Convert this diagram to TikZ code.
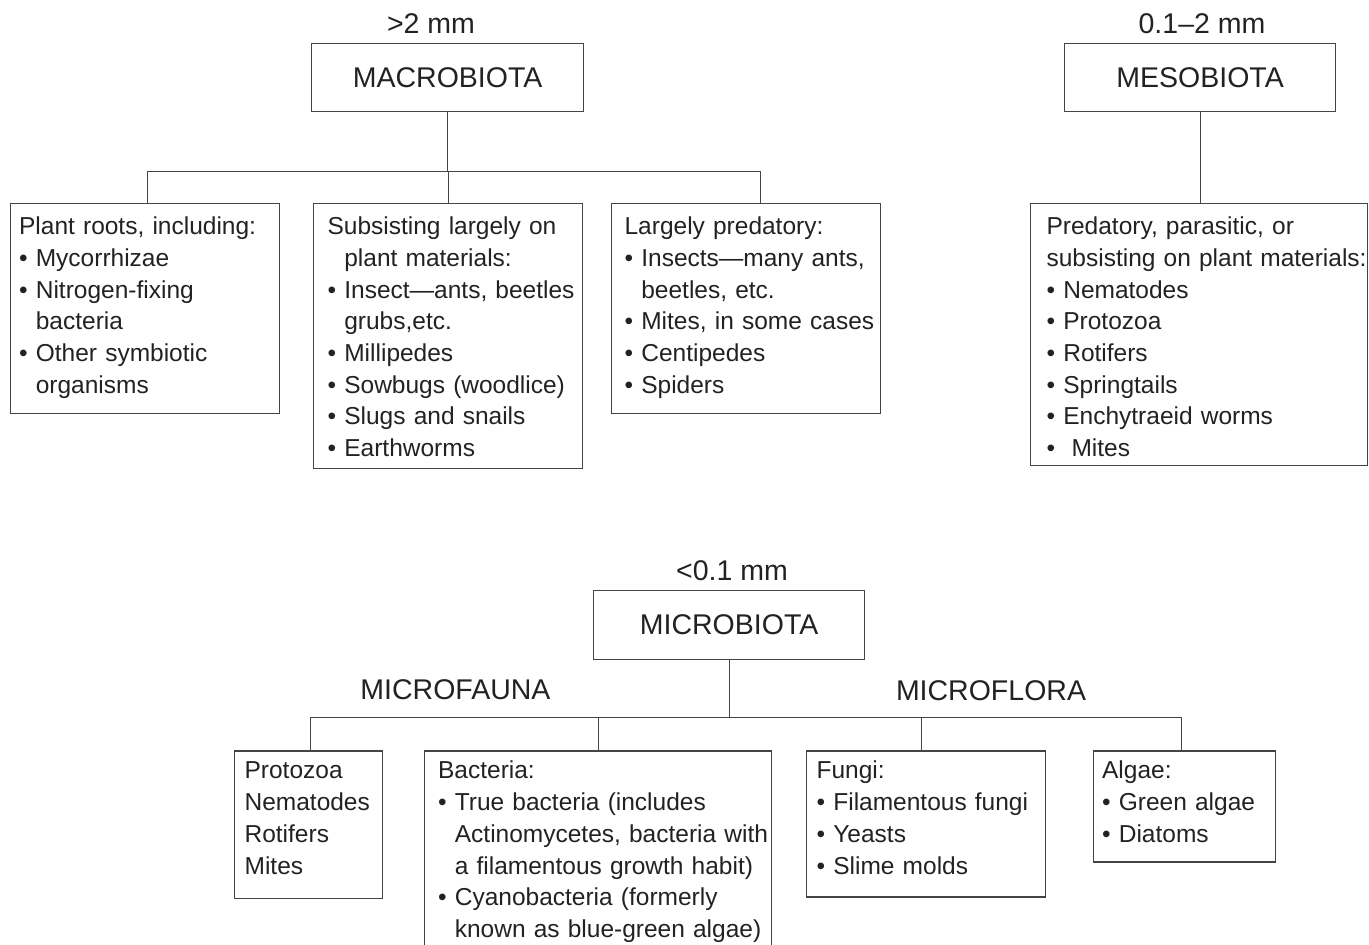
\documentclass[tikz,border=0pt]{standalone}
\usepackage{fontspec}
\setmainfont{Liberation Sans}
\usepackage{tikz}
\usetikzlibrary{positioning, calc}

\definecolor{linegray}{HTML}{444444}
\definecolor{inkgray}{HTML}{222222}

% bullet and hanging indent for the lists
\newcommand{\blt}{\textbullet\ }
\newcommand{\ctd}{\phantom{\textbullet\ }}

\tikzset{
  link/.style={draw=linegray, line width=1.2pt},
  headbox/.style={draw=linegray, line width=1.2pt, anchor=north west, inner sep=0pt,
    minimum height=68.5pt, text=inkgray, font=\fontsize{28.5}{34}\selectfont},
  sizetag/.style={anchor=base, inner sep=0pt, text=inkgray, font=\fontsize{28.5}{34}\selectfont},
  listbox/.style={draw=linegray, line width=1.2pt, anchor=north west, inner sep=0pt,
    align=left, text=inkgray, font=\fontsize{24.5}{31.7}\selectfont,
    execute at begin node={\rightskip=-40pt plus 1fil\relax}},
}

\begin{document}
\begin{tikzpicture}[x=1pt, y=-1pt]
        \useasboundingbox (0,0) rectangle (1369,945);

        % Macrobiota
        \node[sizetag] (macrosz) at (431,33.3) {>2 mm};
        \node[headbox, minimum width=272pt] (macro) at (311,42.7) {MACROBIOTA};
        \node[listbox, minimum width=269pt, text width=251pt, text height=31pt, text depth=179pt]
          (roots) at (9.5,203) {Plant roots, including:\\ \blt Mycorrhizae\\ \blt Nitrogen-fixing\\ \ctd bacteria\\ \blt Other symbiotic\\ \ctd organisms};
        \node[listbox, minimum width=269pt, text width=241pt, text height=31pt, text depth=233.5pt]
          (plants) at (313,203) {Subsisting largely on\\ \ctd plant materials:\\ \blt Insect---ants, beetles\\ \ctd grubs,etc.\\ \blt Millipedes\\ \blt Sowbugs (woodlice)\\ \blt Slugs and snails\\ \blt Earthworms};
        \node[listbox, minimum width=269pt, text width=243pt, text height=31pt, text depth=179pt]
          (preds) at (611,203) {Largely predatory:\\ \blt Insects---many ants,\\ \ctd beetles, etc.\\ \blt Mites, in some cases\\ \blt Centipedes\\ \blt Spiders};

        \draw[link] (macro.south) -- ++(0,59) coordinate (macrobus);
        \draw[link] ([xshift=3pt]roots.north) |- (macrobus) -| ([xshift=14pt]preds.north);
        \draw[link] (plants.north) -- (plants.north |- macrobus);

        % Mesobiota
        \node[sizetag] (mesosz) at (1202,33.3) {0.1--2 mm};
        \node[headbox, minimum width=271pt] (meso) at (1064,42.7) {MESOBIOTA};
        \node[listbox, minimum width=337pt, text width=305pt, text height=31pt, text depth=231pt]
          (mesokids) at (1030,203) {Predatory, parasitic, or\\ subsisting on plant materials:\\ \blt Nematodes\\ \blt Protozoa\\ \blt Rotifers\\ \blt Springtails\\ \blt Enchytraeid worms\\ \blt\ Mites};

        \draw[link] (meso.south) -- (meso.south |- mesokids.north);

        % Microbiota
        \node[sizetag] (microsz) at (732,580.7) {<0.1 mm};
        \node[headbox, minimum width=271pt] (micro) at (593,590) {MICROBIOTA};
        \node[sizetag] (faunatag) at (455.5,699) {MICROFAUNA};
        \node[sizetag] (floratag) at (991,700) {MICROFLORA};

        \node[listbox, minimum width=147.5pt, text width=127.5pt, text height=28pt, text depth=119.5pt]
          (fauna) at (234,750.3) {Protozoa\\ Nematodes\\ Rotifers\\ Mites};
        \node[listbox, minimum width=347pt, text width=320pt, text height=28pt, text depth=169pt]
          (bact) at (424,750.3) {Bacteria:\\ \blt True bacteria (includes\\ \ctd Actinomycetes, bacteria with\\ \ctd a filamentous growth habit)\\ \blt Cyanobacteria (formerly\\ \ctd known as blue-green algae)};
        \node[listbox, minimum width=239pt, text width=218pt, text height=28pt, text depth=118pt]
          (fungi) at (805.5,750.3) {Fungi:\\ \blt Filamentous fungi\\ \blt Yeasts\\ \blt Slime molds};
        \node[listbox, minimum width=182pt, text width=165pt, text height=28pt, text depth=83pt]
          (algae) at (1093,750.3) {Algae:\\ \blt Green algae\\ \blt Diatoms};

        \draw[link] (micro.south) -- ++(0,57.5) coordinate (microbus);
        \draw[link] ([xshift=2pt]fauna.north) |- (microbus) -| ([xshift=-3pt]algae.north);
        \draw[link] (bact.north) -- (bact.north |- microbus);
        \draw[link] ([xshift=-4pt]fungi.north) -- ([xshift=-4pt]fungi.north |- microbus);
\end{tikzpicture}
\end{document}
